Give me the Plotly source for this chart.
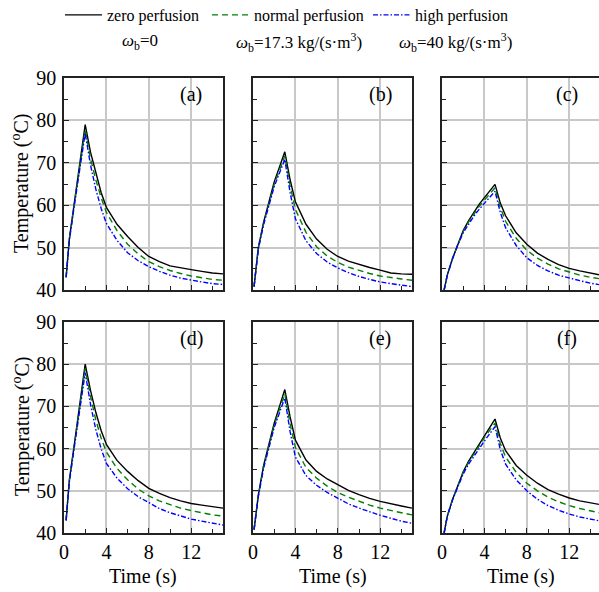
import plotly.graph_objects as go

# ---------------- data ----------------
series_names = ["zero perfusion", "normal perfusion", "high perfusion"]
panel_labels = ["(a)", "(b)", "(c)", "(d)", "(e)", "(f)"]
column_titles = ["<i>ω</i><sub>b</sub>=0",
                 "<i>ω</i><sub>b</sub>=17.3 kg/(s·m<sup>3</sup>)",
                 "<i>ω</i><sub>b</sub>=40 kg/(s·m<sup>3</sup>)"]

t_2s = [0.2, 0.5, 1, 1.5, 2, 2.5, 3, 3.5, 4, 5, 6, 7, 8, 9, 10, 11, 12, 13, 14, 15]
t_3s = [0.1, 0.5, 1, 1.5, 2, 2.5, 3, 3.5, 4, 5, 6, 7, 8, 9, 10, 11, 12, 13, 14, 15]
t_5s = [0.2, 0.5, 1, 1.5, 2, 2.5, 3, 3.5, 4, 4.5, 5, 5.5, 6, 7, 8, 9, 10, 11, 12, 13, 14, 15]

a_zero = [43.0, 52.0, 61.0, 70.0, 79.0, 72.5, 67.5, 63.0, 59.5, 55.5, 52.6, 50.0, 47.9, 46.7, 45.7, 45.2, 44.8, 44.4, 44.0, 43.8]
a_norm = [43.0, 51.8, 60.7, 69.3, 77.8, 71.0, 66.0, 61.8, 58.3, 54.0, 50.8, 48.5, 46.7, 45.5, 44.6, 43.9, 43.3, 42.9, 42.5, 42.3]
a_high = [43.0, 51.6, 60.4, 68.8, 77.0, 69.5, 63.8, 59.3, 55.7, 51.7, 48.8, 46.9, 45.5, 44.4, 43.5, 42.8, 42.3, 41.9, 41.5, 41.3]

b_zero = [40.8, 50.0, 56.0, 61.0, 65.5, 69.0, 72.6, 66.0, 60.8, 55.5, 52.0, 49.6, 47.9, 46.8, 46.0, 45.3, 44.7, 44.0, 43.8, 43.7]
b_norm = [40.8, 49.8, 55.7, 60.6, 64.9, 68.3, 71.6, 64.6, 59.0, 53.6, 50.2, 48.0, 46.5, 45.4, 44.6, 43.9, 43.3, 42.9, 42.6, 42.3]
b_high = [40.8, 49.6, 55.4, 60.2, 64.4, 67.6, 70.8, 63.0, 56.8, 51.6, 48.6, 46.6, 45.2, 44.1, 43.2, 42.5, 41.9, 41.5, 41.1, 40.8]

c_zero = [40.0, 43.5, 47.5, 51.0, 54.0, 56.3, 58.3, 60.2, 61.8, 63.4, 64.9, 60.5, 57.5, 53.5, 50.8, 48.7, 47.2, 46.0, 45.1, 44.5, 44.0, 43.5]
c_norm = [40.0, 43.5, 47.5, 50.9, 53.8, 56.0, 58.0, 59.7, 61.2, 62.7, 64.1, 59.5, 56.2, 52.2, 49.4, 47.5, 46.1, 45.0, 44.2, 43.5, 43.0, 42.6]
c_high = [40.0, 43.5, 47.4, 50.7, 53.5, 55.6, 57.4, 59.0, 60.4, 61.8, 63.3, 58.3, 54.7, 50.5, 47.6, 45.8, 44.5, 43.5, 42.8, 42.2, 41.6, 41.2]

d_zero = [43.0, 52.5, 61.5, 70.8, 80.0, 73.8, 68.6, 64.3, 61.0, 57.2, 54.6, 52.4, 50.6, 49.4, 48.4, 47.6, 47.0, 46.6, 46.2, 45.9]
d_norm = [43.0, 52.3, 61.2, 70.2, 79.0, 72.4, 66.8, 62.5, 59.2, 55.3, 52.6, 50.4, 48.8, 47.6, 46.7, 45.9, 45.3, 44.8, 44.3, 44.0]
d_high = [43.0, 52.0, 60.8, 69.5, 78.0, 70.5, 64.5, 60.0, 56.5, 53.0, 50.5, 48.6, 47.1, 45.8, 44.8, 44.0, 43.3, 42.8, 42.3, 41.9]

e_zero = [40.8, 49.0, 56.0, 61.2, 66.0, 70.0, 74.0, 67.5, 62.0, 57.3, 54.6, 52.8, 51.4, 50.1, 49.1, 48.2, 47.5, 46.9, 46.4, 45.9]
e_norm = [40.8, 48.8, 55.7, 60.8, 65.5, 69.3, 73.0, 65.8, 60.3, 55.5, 53.0, 51.1, 49.6, 48.5, 47.5, 46.6, 45.9, 45.3, 44.8, 44.3]
e_high = [40.8, 48.6, 55.4, 60.4, 65.0, 68.5, 72.0, 64.0, 58.0, 53.6, 51.3, 49.6, 48.2, 46.9, 45.9, 45.0, 44.2, 43.5, 42.8, 42.3]

f_zero = [40.0, 44.0, 48.0, 51.5, 54.5, 57.0, 59.0, 61.2, 63.3, 65.2, 67.0, 62.5, 59.5, 56.0, 53.7, 51.8, 50.3, 49.2, 48.3, 47.6, 47.1, 46.7]
f_norm = [40.0, 44.0, 48.0, 51.4, 54.3, 56.7, 58.7, 60.7, 62.6, 64.3, 66.0, 61.2, 58.0, 54.4, 51.8, 50.0, 48.5, 47.4, 46.5, 45.8, 45.2, 44.7]
f_high = [40.0, 44.0, 47.9, 51.2, 54.0, 56.3, 58.2, 60.1, 61.8, 63.5, 65.2, 59.8, 56.3, 52.6, 50.0, 48.0, 46.5, 45.4, 44.5, 43.8, 43.2, 42.8]

x_ticks = [0, 4, 8, 12]
y_ticks = [40, 50, 60, 70, 80, 90]

# ---------------- layout helpers ----------------
W, H = 599, 592
FONT = "Liberation Serif"

panels = [
    (t_2s, [a_zero, a_norm, a_high]),
    (t_3s, [b_zero, b_norm, b_high]),
    (t_5s, [c_zero, c_norm, c_high]),
    (t_2s, [d_zero, d_norm, d_high]),
    (t_3s, [e_zero, e_norm, e_high]),
    (t_5s, [f_zero, f_norm, f_high]),
]

col_px = [(64, 223), (253, 412), (442, 599)]
row_px = [(78, 290), (322, 533)]
x_max = [15, 15, 15 * (157 / 159)]

styles = [
    dict(color="black", width=1.4, dash="solid"),
    dict(color="#008000", width=1.4, dash="6px,4px"),
    dict(color="#0000ff", width=1.4, dash="5px,2px,1.5px,2px"),
]
legend_ids = ["legend", "legend2", "legend3"]
legend_x_px = [60, 207, 368]

fig = go.Figure()
layout = {}
annotations = []

for i, (tt, ys) in enumerate(panels):
    r, c = divmod(i, 3)
    n = i + 1
    xa = "x" if n == 1 else f"x{n}"
    ya = "y" if n == 1 else f"y{n}"
    for k, yv in enumerate(ys):
        fig.add_trace(go.Scatter(
            x=tt, y=yv, mode="lines", name=series_names[k],
            line=styles[k], showlegend=(i == 0), legend=legend_ids[k],
            xaxis=xa, yaxis=ya, cliponaxis=True))
    x0, x1 = col_px[c]
    y0, y1 = row_px[r]
    xkey = "xaxis" if n == 1 else f"xaxis{n}"
    ykey = "yaxis" if n == 1 else f"yaxis{n}"
    layout[xkey] = dict(
        domain=[x0 / W, x1 / W], anchor=ya, range=[0, x_max[c]],
        tickvals=x_ticks, showticklabels=(r == 1), automargin=False,
        ticks="inside", ticklen=5, tickcolor="#222", tickwidth=1,
        minor=dict(ticks="inside", dtick=2, tick0=0, ticklen=4, tickcolor="#222", showgrid=False),
        showgrid=True, gridcolor="#c8c8c8", gridwidth=1.5,
        showline=True, linecolor="#222", linewidth=1.5, mirror=True,
        zeroline=False, tickfont=dict(family=FONT, size=20, color="black"),
        fixedrange=True)
    layout[ykey] = dict(
        domain=[1 - y1 / H, 1 - y0 / H], anchor=xa, range=[40, 90],
        tickvals=y_ticks, showticklabels=(c == 0), automargin=False,
        ticks="inside", ticklen=5, tickcolor="#222", tickwidth=1,
        minor=dict(ticks="inside", dtick=5, tick0=40, ticklen=4, tickcolor="#222", showgrid=False),
        showgrid=True, gridcolor="#c8c8c8", gridwidth=1.5,
        showline=True, linecolor="#222", linewidth=1.5, mirror=(c != 2),
        zeroline=False, tickfont=dict(family=FONT, size=20, color="black"),
        ticklabelstandoff=2, fixedrange=True)
    # panel label
    annotations.append(dict(
        text=panel_labels[i], x=(x1 - 32) / W, y=1 - (y0 + 16) / H,
        xref="paper", yref="paper", xanchor="center", yanchor="middle",
        showarrow=False, font=dict(family=FONT, size=20, color="black")))

# column titles
for cx, txt in zip([140, 299, 455], column_titles):
    annotations.append(dict(
        text=txt, x=cx / W, y=1 - 42 / H, xref="paper", yref="paper",
        xanchor="center", yanchor="middle", showarrow=False,
        font=dict(family=FONT, size=17, color="black")))

# y-axis titles
for cy in [184, 427]:
    annotations.append(dict(
        text="Temperature (<sup>o</sup>C)", x=21 / W, y=1 - cy / H,
        xref="paper", yref="paper", xanchor="center", yanchor="middle",
        textangle=-90, showarrow=False,
        font=dict(family=FONT, size=20, color="black")))

# x-axis titles
for cx in [143, 333, 521]:
    annotations.append(dict(
        text="Time (s)", x=cx / W, y=1 - 576 / H,
        xref="paper", yref="paper", xanchor="center", yanchor="middle",
        showarrow=False, font=dict(family=FONT, size=20, color="black")))

legends = {}
for lid, lx in zip(legend_ids, legend_x_px):
    legends[lid] = dict(orientation="h", x=lx / W, y=1 + 2 / H, xanchor="left", yanchor="top",
                        font=dict(family=FONT, size=16, color="black"), itemwidth=37,
                        bgcolor="rgba(0,0,0,0)", borderwidth=0)

fig.update_layout(
    template="none",
    width=W, height=H,
    margin=dict(l=0, r=0, t=0, b=0, autoexpand=False),
    font=dict(family=FONT, color="black"),
    paper_bgcolor="white", plot_bgcolor="white",
    annotations=annotations,
    **legends,
    **layout)

fig.write_html("out.html", config={"displayModeBar": False},
               post_script="document.body.style.margin='0px';")
